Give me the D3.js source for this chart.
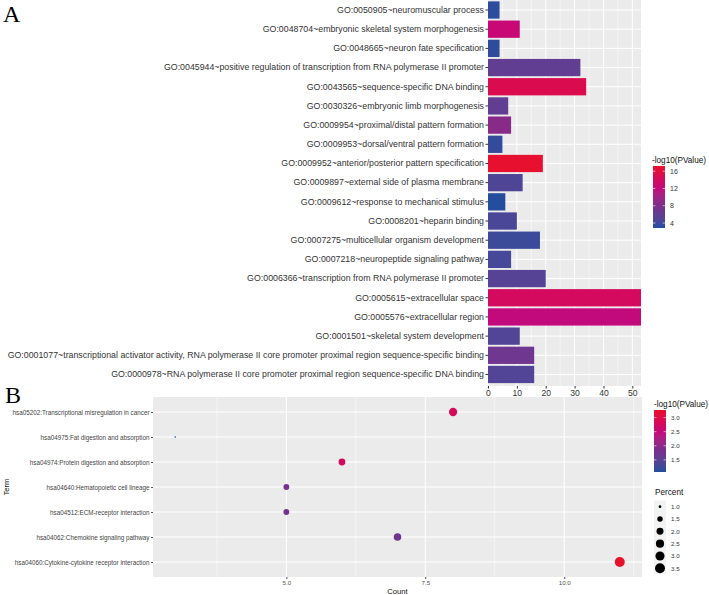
<!DOCTYPE html>
<html><head><meta charset="utf-8">
<script src="https://cdn.jsdelivr.net/npm/d3@7"></script>
<style>body{margin:0;background:#fff}svg{display:block}text{font-family:"Liberation Sans",Arial,sans-serif}</style>
</head><body><svg id="c" width="709" height="595"></svg>
<script>
// ---- Panel A data ----
const goTerms = [
 "GO:0050905~neuromuscular process",
 "GO:0048704~embryonic skeletal system morphogenesis",
 "GO:0048665~neuron fate specification",
 "GO:0045944~positive regulation of transcription from RNA polymerase II promoter",
 "GO:0043565~sequence-specific DNA binding",
 "GO:0030326~embryonic limb morphogenesis",
 "GO:0009954~proximal/distal pattern formation",
 "GO:0009953~dorsal/ventral pattern formation",
 "GO:0009952~anterior/posterior pattern specification",
 "GO:0009897~external side of plasma membrane",
 "GO:0009612~response to mechanical stimulus",
 "GO:0008201~heparin binding",
 "GO:0007275~multicellular organism development",
 "GO:0007218~neuropeptide signaling pathway",
 "GO:0006366~transcription from RNA polymerase II promoter",
 "GO:0005615~extracellular space",
 "GO:0005576~extracellular region",
 "GO:0001501~skeletal system development",
 "GO:0001077~transcriptional activator activity, RNA polymerase II core promoter proximal region sequence-specific binding",
 "GO:0000978~RNA polymerase II core promoter proximal region sequence-specific DNA binding"
];
const goCounts = [4, 11, 4, 32, 34, 7, 8, 5, 19, 12, 6, 10, 18, 8, 20, 53, 53, 11, 16, 16];
const goLogP   = [3.2, 12.5, 3.3, 6.0, 15.0, 6.0, 8.7, 3.5, 17.0, 4.8, 3.0, 4.5, 3.8, 4.3, 5.2, 14.0, 12.0, 5.0, 7.0, 5.0];
const goXTicks = [0, 10, 20, 30, 40, 50];
const goLegendTicks = [4, 8, 12, 16];

// ---- Panel B data ----
const keggTerms = [
 "hsa05202:Transcriptional misregulation in cancer",
 "hsa04975:Fat digestion and absorption",
 "hsa04974:Protein digestion and absorption",
 "hsa04640:Hematopoietic cell lineage",
 "hsa04512:ECM-receptor interaction",
 "hsa04062:Chemokine signaling pathway",
 "hsa04060:Cytokine-cytokine receptor interaction"
];
const keggCounts  = [8, 3, 6, 5, 5, 7, 11];
const keggLogP    = [2.85, 1.07, 2.8, 1.8, 1.8, 1.75, 3.27];
const keggPercent = [2.56, 0.96, 1.92, 1.6, 1.6, 2.24, 3.52];
const keggXTicks = [5, 7.5, 10];
const keggLegendTicks = [1.5, 2.0, 2.5, 3.0];
const percentLegend = [1.0, 1.5, 2.0, 2.5, 3.0, 3.5];

// palette (relative position -> colour)
const paletteStops  = [0, 0.36, 0.64, 1];
const paletteColors = ["#1F4E9E", "#7B2E8B", "#C4097C", "#E8112B"];

const svg = d3.select("#c");
const PANEL = "#EBEBEB", TXT = "#333333";
function colourScale(lo, hi) {
  const toVal = d3.scaleLinear().domain([0, 1]).range([lo, hi]);
  return d3.scaleLinear().domain(paletteStops.map(toVal)).range(paletteColors).interpolate(d3.interpolateLab).clamp(true);
}

// ================= Panel A =================
const A = {l: 488, r: 641, t: -1.5, b: 386};
const xA = d3.scaleLinear().domain([0, 53]).range([A.l, A.r]);
const yA = d3.scaleBand().domain(goTerms).range([A.t, A.b]).paddingInner(0.1).paddingOuter(0.15);
const cAdom = [2.85, 17.2];
const cA = colourScale(cAdom[0], cAdom[1]);

const gA = svg.append("g");
gA.append("rect").attr("x", A.l).attr("y", A.t).attr("width", A.r - A.l).attr("height", A.b - A.t).attr("fill", PANEL);
const minorA = [5, 15, 25, 35, 45];
gA.selectAll(".mnA").data(minorA).join("line")
  .attr("x1", d => xA(d)).attr("x2", d => xA(d)).attr("y1", A.t).attr("y2", A.b)
  .attr("stroke", "#fff").attr("stroke-width", 0.5);
gA.selectAll(".mjA").data(goXTicks).join("line")
  .attr("x1", d => xA(d)).attr("x2", d => xA(d)).attr("y1", A.t).attr("y2", A.b)
  .attr("stroke", "#fff").attr("stroke-width", 1);
gA.selectAll(".hA").data(goTerms).join("line")
  .attr("x1", A.l).attr("x2", A.r).attr("y1", d => yA(d) + yA.bandwidth() / 2).attr("y2", d => yA(d) + yA.bandwidth() / 2)
  .attr("stroke", "#fff").attr("stroke-width", 1);
gA.selectAll(".barA").data(goTerms).join("rect")
  .attr("x", xA(0)).attr("y", d => yA(d))
  .attr("width", (d, i) => xA(goCounts[i]) - xA(0)).attr("height", yA.bandwidth())
  .attr("fill", (d, i) => cA(goLogP[i]));

const axAx = gA.append("g").attr("transform", `translate(0,${A.b})`)
  .call(d3.axisBottom(xA).tickValues(goXTicks).tickSize(2.5).tickPadding(1.5));
axAx.select(".domain").remove();
axAx.selectAll("line").attr("stroke", "#333");
axAx.selectAll("text").attr("font-size", 8.6).attr("fill", TXT).attr("font-family", "Liberation Sans, Arial");

const ayA = gA.append("g").attr("transform", `translate(${A.l},0)`)
  .call(d3.axisLeft(yA).tickSize(2.5).tickPadding(1.5));
ayA.select(".domain").remove();
ayA.selectAll("line").attr("stroke", "#333");
ayA.selectAll("text").attr("font-size", 8.8).attr("fill", TXT).attr("font-family", "Liberation Sans, Arial");

svg.append("text").attr("x", 3).attr("y", 22).text("A")
  .attr("font-size", 24).style("font-family", "Liberation Serif");

// Legend A
const LA = {x: 653, w: 12, t: 166, b: 228};
const lgA = svg.append("g");
lgA.append("text").attr("x", 652).attr("y", 163).text("-log10(PValue)").attr("font-size", 8.2).attr("fill", "#111");
const lyA = d3.scaleLinear().domain(cAdom).range([LA.b, LA.t]);
const defs = svg.append("defs");
function gradient(id, scale, dom) {
  const g = defs.append("linearGradient").attr("id", id).attr("x1", 0).attr("y1", 1).attr("x2", 0).attr("y2", 0);
  d3.range(0, 1.0001, 0.04).forEach(t => g.append("stop").attr("offset", t).attr("stop-color", scale(dom[0] + t * (dom[1] - dom[0]))));
}
gradient("gA", cA, cAdom);
lgA.append("rect").attr("x", LA.x).attr("y", LA.t).attr("width", LA.w).attr("height", LA.b - LA.t).attr("fill", "url(#gA)");
goLegendTicks.forEach(v => {
  lgA.append("line").attr("x1", LA.x).attr("x2", LA.x + 2.4).attr("y1", lyA(v)).attr("y2", lyA(v)).attr("stroke", "#fff").attr("stroke-width", 0.6);
  lgA.append("line").attr("x1", LA.x + LA.w - 2.4).attr("x2", LA.x + LA.w).attr("y1", lyA(v)).attr("y2", lyA(v)).attr("stroke", "#fff").attr("stroke-width", 0.6);
  lgA.append("text").attr("x", 670).attr("y", lyA(v) + 2.5).text(v).attr("font-size", 7).attr("fill", TXT);
});

// ================= Panel B =================
const B = {l: 153, r: 642, t: 397, b: 577};
const xB = d3.scaleLinear().domain([2.6, 11.4]).range([B.l, B.r]);
const yB = d3.scalePoint().domain(keggTerms).range([B.t, B.b]).padding(0.6);
const cBdom = [1.07, 3.27];
const cB = colourScale(cBdom[0], cBdom[1]);
const tB = d3.scaleLinear().domain([0.96, 3.52]).range([0, 1]).clamp(true);
const dB = d3.scaleLinear().domain([0, 1]).range([1.67, 10]);
const diam = p => dB(Math.sqrt(tB(p)));

const gB = svg.append("g");
gB.append("rect").attr("x", B.l).attr("y", B.t).attr("width", B.r - B.l).attr("height", B.b - B.t).attr("fill", PANEL);
const minorB = [3.75, 6.25, 8.75, 11.25];
gB.selectAll(".mnB").data(minorB).join("line")
  .attr("x1", d => xB(d)).attr("x2", d => xB(d)).attr("y1", B.t).attr("y2", B.b)
  .attr("stroke", "#fff").attr("stroke-width", 0.5);
gB.selectAll(".mjB").data(keggXTicks).join("line")
  .attr("x1", d => xB(d)).attr("x2", d => xB(d)).attr("y1", B.t).attr("y2", B.b)
  .attr("stroke", "#fff").attr("stroke-width", 1);
gB.selectAll(".hB").data(keggTerms).join("line")
  .attr("x1", B.l).attr("x2", B.r).attr("y1", d => yB(d)).attr("y2", d => yB(d))
  .attr("stroke", "#fff").attr("stroke-width", 1);
gB.selectAll(".ptB").data(keggTerms).join("circle")
  .attr("cx", (d, i) => xB(keggCounts[i])).attr("cy", d => yB(d))
  .attr("r", (d, i) => diam(keggPercent[i]) / 2)
  .attr("fill", (d, i) => cB(keggLogP[i]));

const axBx = gB.append("g").attr("transform", `translate(0,${B.b})`)
  .call(d3.axisBottom(xB).tickValues(keggXTicks).tickFormat(d3.format(".1f")).tickSize(2).tickPadding(1.5));
axBx.select(".domain").remove();
axBx.selectAll("line").attr("stroke", "#555");
axBx.selectAll("text").attr("font-size", 6.2).attr("fill", "#555").attr("font-family", "Liberation Sans, Arial");

const ayB = gB.append("g").attr("transform", `translate(${B.l},0)`)
  .call(d3.axisLeft(yB).tickSize(2).tickPadding(1.5));
ayB.select(".domain").remove();
ayB.selectAll("line").attr("stroke", "#555");
ayB.selectAll("text").attr("font-size", 6.3).attr("fill", "#444").attr("font-family", "Liberation Sans, Arial");

svg.append("text").attr("x", (B.l + B.r) / 2).attr("y", 594).attr("text-anchor", "middle").text("Count").attr("font-size", 7.6).attr("fill", "#111");
svg.append("text").attr("transform", `translate(9,${(B.t + B.b) / 2}) rotate(-90)`).attr("text-anchor", "middle").text("Term").attr("font-size", 7.6).attr("fill", "#111");

svg.append("text").attr("x", 5).attr("y", 403).text("B")
  .attr("font-size", 24).style("font-family", "Liberation Serif");

// Legend B color
const LB = {x: 654, w: 12, t: 410, b: 472};
const lgB = svg.append("g");
lgB.append("text").attr("x", 654).attr("y", 407).text("-log10(PValue)").attr("font-size", 8.2).attr("fill", "#111");
const lyB = d3.scaleLinear().domain(cBdom).range([LB.b, LB.t]);
gradient("gB", cB, cBdom);
lgB.append("rect").attr("x", LB.x).attr("y", LB.t).attr("width", LB.w).attr("height", LB.b - LB.t).attr("fill", "url(#gB)");
keggLegendTicks.forEach(v => {
  lgB.append("line").attr("x1", LB.x).attr("x2", LB.x + 2.4).attr("y1", lyB(v)).attr("y2", lyB(v)).attr("stroke", "#fff").attr("stroke-width", 0.6);
  lgB.append("line").attr("x1", LB.x + LB.w - 2.4).attr("x2", LB.x + LB.w).attr("y1", lyB(v)).attr("y2", lyB(v)).attr("stroke", "#fff").attr("stroke-width", 0.6);
  lgB.append("text").attr("x", 671).attr("y", lyB(v) + 2.3).text(d3.format(".1f")(v)).attr("font-size", 6.2).attr("fill", TXT);
});

// Legend B size
lgB.append("text").attr("x", 655).attr("y", 495).text("Percent").attr("font-size", 8.2).attr("fill", "#111");
const ySz = d3.scalePoint().domain(percentLegend).range([506.7, 568.3]);
percentLegend.forEach(v => {
  lgB.append("rect").attr("x", 654).attr("y", ySz(v) - 6.1).attr("width", 12).attr("height", 12.2).attr("fill", "#F2F2F2");
  lgB.append("circle").attr("cx", 660).attr("cy", ySz(v)).attr("r", diam(v) / 2).attr("fill", "#000");
  lgB.append("text").attr("x", 671).attr("y", ySz(v) + 2.2).text(d3.format(".1f")(v)).attr("font-size", 6.2).attr("fill", TXT);
});
</script></body></html>
